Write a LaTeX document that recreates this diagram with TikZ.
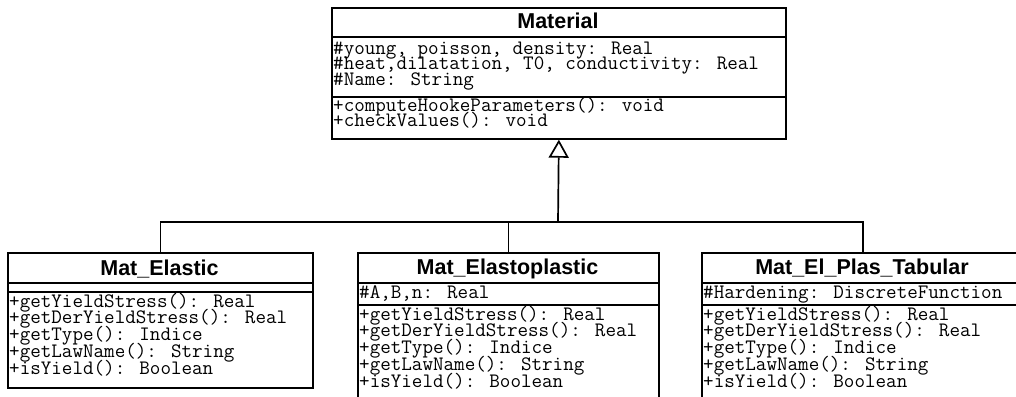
\documentclass[tikz,border=0pt]{standalone}
\usepackage{fontspec}
\newfontfamily\titlefont{Liberation Sans}
\usetikzlibrary{arrows.meta}
\tikzset{
 box/.style={draw, line width=1.7pt, inner sep=0pt, anchor=north west},
 sepline/.style={line width=1.5pt},
 conn/.style={line width=1.7pt},
 ttl/.style={font=\titlefont\bfseries\fontsize{21.5}{24}\selectfont, anchor=base, inner sep=0pt},
 txt/.style={font=\ttfamily\fontsize{20.5}{20}\selectfont, anchor=base west, inner sep=0pt, text height=10pt, text depth=2pt},
}
\begin{document}
\begin{tikzpicture}[x=1pt,y=-1pt]
\useasboundingbox (0,0) rectangle (1016,396);
% Material
\node[box, minimum width=454pt, minimum height=131pt] (mat) at (331,7) {};
\draw[sepline] (mat.west |- 0,37) -- (mat.east |- 0,37);
\draw[sepline] (mat.west |- 0,97) -- (mat.east |- 0,97);
\node[ttl] (matT) at (558,29) {Material};
\node[txt] (ma1) at (333,55) {\#young, poisson, density: Real};
\node[txt] (ma2) at (333,70) {\#heat,dilatation, T0, conductivity: Real};
\node[txt] (ma3) at (333,85) {\#Name: String};
\node[txt] (mm1) at (333,111) {+computeHookeParameters(): void};
\node[txt] (mm2) at (333,126) {+checkValues(): void};
% Mat_Elastic
\node[box, minimum width=305pt, minimum height=135pt] (el) at (7,252) {};
\draw[sepline] (el.west |- 0,283) -- (el.east |- 0,283);
\draw[sepline] (el.west |- 0,292) -- (el.east |- 0,292);
\node[ttl] (elT) at (159.5,275) {Mat\_Elastic};
% Mat_Elastoplastic
\node[box, minimum width=301pt, minimum height=170pt] (ep) at (357,252) {};
\draw[sepline] (ep.west |- 0,283) -- (ep.east |- 0,283);
\draw[sepline] (ep.west |- 0,305) -- (ep.east |- 0,305);
\node[ttl] (epT) at (507.5,274) {Mat\_Elastoplastic};
\node[txt] (epA) at (359,298) {\#A,B,n: Real};
% Mat_El_Plas_Tabular
\node[box, minimum width=322pt, minimum height=170pt] (tb) at (701,252) {};
\draw[sepline] (tb.west |- 0,283) -- (tb.east |- 0,283);
\draw[sepline] (tb.west |- 0,305) -- (tb.east |- 0,305);
\node[ttl] (tbT) at (862,274) {Mat\_El\_Plas\_Tabular};
\node[txt] (tbA) at (703,298) {\#Hardening: DiscreteFunction};
% methods
\foreach \t [count=\i] in {+getYieldStress(): Real,+getDerYieldStress(): Real,+getType(): Indice,+getLawName(): String,+isYield(): Boolean}{
  \node[txt] (el-m\i) at (9,{307+(\i-1)*16.8}) {\t};
  \node[txt] (ep-m\i) at (359,{320+(\i-1)*16.9}) {\t};
  \node[txt] (tb-m\i) at (703,{320+(\i-1)*16.9}) {\t};
}
% generalization connectors
\coordinate (j) at (558,222);
\draw[conn] (el.north) -- (el.north |- j) -- (tb.north |- j) -- (tb.north);
\draw[conn] (ep.north) -- (ep.north |- j);
\draw[conn, -{Triangle[open, length=18pt, width=20pt, line width=1.7pt]}] (j) -- (mat.south);
\end{tikzpicture}
\end{document}
